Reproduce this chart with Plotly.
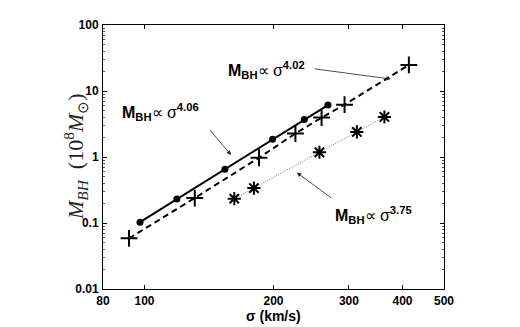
import numpy as np
import plotly.graph_objects as go

# sigma (km/s) and M_BH (10^8 Msun) for the three samples
sig_dot = [97.6, 119, 154, 199, 236, 268]
m_dot = [0.103, 0.231, 0.65, 1.86, 3.69, 6.12]

sig_plus = [92, 131, 185, 225, 259, 293, 414]
m_plus = [0.0585, 0.239, 0.975, 2.27, 3.95, 6.2, 24.8]

sig_star = [162, 180, 256, 313, 363]
m_star = [0.234, 0.338, 1.18, 2.40, 4.04]

x_ticks = [80, 100, 200, 300, 400, 500]
y_ticks = [0.01, 0.1, 1, 10, 100]

# slope labels: (text, sigma, M) and arrows: (tail sigma, tail M, head sigma, head M)
labels = [
    ("4.06", 87.6, 4.75),
    ("4.02", 154.7, 21.0),
    ("3.75", 275, 0.130),
]
arrows = [
    (141.2, 2.70, 159.2, 1.07),
    (247.4, 21.8, 375.5, 15.2),
    (275, 0.231, 226.7, 0.58),
]

fig = go.Figure()

fig.add_trace(go.Scatter(x=sig_dot, y=m_dot, mode='lines+markers',
                         line=dict(color='black', width=2),
                         marker=dict(symbol='circle', size=7, color='black')))
fig.add_trace(go.Scatter(x=sig_plus, y=m_plus, mode='lines+markers',
                         line=dict(color='black', width=2, dash='6px,4px'),
                         marker=dict(symbol='cross-thin-open', size=12, color='black',
                                     line=dict(color='black', width=2))))
fig.add_trace(go.Scatter(x=sig_star, y=m_star, mode='lines+markers',
                         line=dict(color='#777', width=1, dash='1px,1.5px'),
                         marker=dict(symbol='asterisk-open', size=11, color='black',
                                     line=dict(color='black', width=2))))

for exp, sx, my in labels:
    fig.add_annotation(x=np.log10(sx), y=np.log10(my), xref='x', yref='y',
                       text='<b>M</b><sub><b>BH</b></sub>∝ σ<sup><b>' + exp + '</b></sup>',
                       showarrow=False, xanchor='left', yanchor='middle',
                       font=dict(family='Liberation Sans, Arial', size=16, color='black'))

for tx, ty, hx, hy in arrows:
    fig.add_annotation(x=np.log10(hx), y=np.log10(hy), ax=np.log10(tx), ay=np.log10(ty),
                       xref='x', yref='y', axref='x', ayref='y', text='',
                       showarrow=True, arrowhead=2, arrowsize=1.1, arrowwidth=0.8,
                       arrowcolor='#222')

fig.add_annotation(x=0, y=0.5, xref='paper', yref='paper', xshift=-28,
                   text='<i>M</i><sub><i>BH</i></sub>  (10<sup>8</sup><i>M</i><sub>⊙</sub>)',
                   textangle=-90, showarrow=False, xanchor='center', yanchor='middle',
                   font=dict(family='Liberation Serif, serif', size=22, color='#222'))
fig.add_annotation(x=0.5, y=0, xref='paper', yref='paper', yshift=-27,
                   text='<b>σ (km/s)</b>', showarrow=False,
                   xanchor='center', yanchor='middle',
                   font=dict(family='Liberation Sans, Arial', size=14, color='black'))

tickfont = dict(family='Liberation Sans, Arial', size=12, color='black', weight='bold')
fig.update_xaxes(type='log', range=[np.log10(80), np.log10(500)],
                 tickvals=x_ticks, ticktext=[str(v) for v in x_ticks],
                 ticks='inside', ticklen=4, tickcolor='black', mirror='allticks',
                 showline=True, linecolor='black', linewidth=1,
                 showgrid=False, zeroline=False, tickfont=tickfont, ticklabelstandoff=1)
fig.update_yaxes(type='log', range=[-2, 2], dtick=1,
                 tickvals=y_ticks, ticktext=['0.01', '0.1', '1', '10', '100'],
                 ticks='inside', ticklen=4, tickcolor='black', mirror='allticks',
                 minor=dict(ticks='inside', ticklen=2, tickcolor='#555', dtick='D1', showgrid=False),
                 showline=True, linecolor='black', linewidth=1,
                 showgrid=False, zeroline=False, tickfont=tickfont, ticklabelstandoff=1)

fig.update_layout(width=520, height=327, showlegend=False,
                  margin=dict(l=103, r=76, t=25, b=38),
                  plot_bgcolor='white', paper_bgcolor='white')

fig.write_html("out.html", config={'displayModeBar': False},
               post_script="document.body.style.margin='0';")
